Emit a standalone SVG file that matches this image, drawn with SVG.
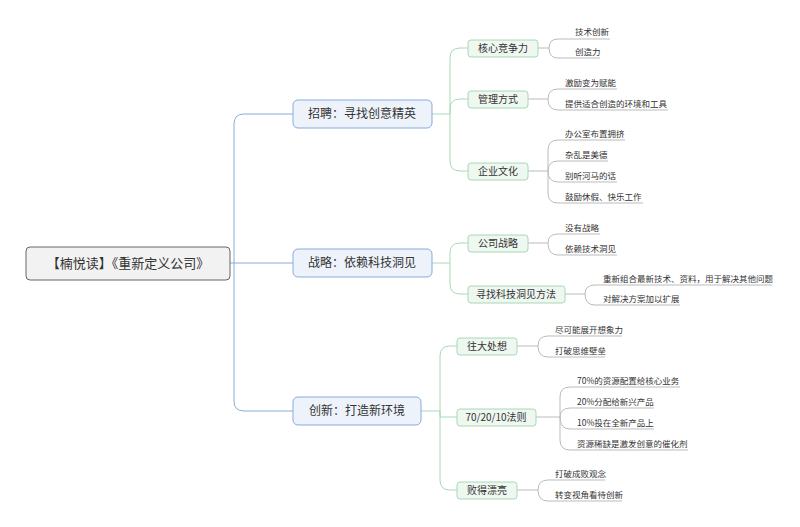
<svg xmlns="http://www.w3.org/2000/svg" width="800" height="527" viewBox="0 0 800 527">
<style>
text{font-family:"Noto Sans CJK SC","Liberation Sans",sans-serif;fill:#333}
.root{fill:#f2f2f2;stroke:#666;stroke-width:1}
.l1{fill:#eef3fb;stroke:#86acd9;stroke-width:1}
.l2{fill:#eef7f0;stroke:#a8d8b5;stroke-width:1}
.c1{fill:none;stroke:#86acd9;stroke-width:1}
.c2{fill:none;stroke:#a8d8b5;stroke-width:1}
.c3{fill:none;stroke:#bbb;stroke-width:1}
.t1{font-size:12px}.t2{font-size:10px}.t3{font-size:8.5px}
</style>
<rect width="800" height="527" fill="#fff"/>
<g id="connectors">
<path class="c1" d="M230 263H234M234 263V124Q234 114 244 114H293M234 263H293M234 263V401Q234 411 244 411H293"/>
<path class="c2" d="M432 114H450M450 114V58Q450 48 460 48H468M450 114V109Q450 99 460 99H468M450 114V161Q450 171 460 171H468"/>
<path class="c2" d="M432 263H450M450 263V253Q450 243 460 243H468M450 263V284Q450 294 460 294H468"/>
<path class="c2" d="M421 411H440M440 411V356Q440 346 450 346H457M440 411V417H457M440 411V480Q440 490 450 490H457"/>
<path class="c3" d="M538 48H549M549 48V48Q549 39 558 39H610M549 48Q549 58 558 58H600"/>
<path class="c3" d="M528 99H548M548 99Q548 89 558 89H617M548 99Q548 110 558 110H668"/>
<path class="c3" d="M528 171H548M548 171V150Q548 140 558 140H625M548 171V171Q548 161 558 161H608M548 171Q548 182 558 182H617M548 171V193Q548 203 558 203H643"/>
<path class="c3" d="M528 243H548M548 243Q548 234 558 234H600M548 243Q548 255 558 255H617"/>
<path class="c3" d="M565 294H585M585 294Q585 285 595 285H772M585 294Q585 305 595 305H680"/>
<path class="c3" d="M517 346H538M538 346Q538 336 548 336H622M538 346Q538 357 548 357H605"/>
<path class="c3" d="M536 417H560M560 417V397Q560 387 570 387H680M560 417V418Q560 408 570 408H654M560 417Q560 429 570 429H654M560 417V440Q560 450 570 450H688"/>
<path class="c3" d="M517 490H538M538 490Q538 480 548 480H605M538 490Q538 501 548 501H622"/>
</g>
<g id="root"><rect class="root" x="26" y="247" width="204" height="33" rx="4"/><text x="128" y="268" font-size="13" text-anchor="middle">【楠悦读】《重新定义公司》</text></g>
<g id="n1"><rect class="l1" x="293" y="100" width="139" height="28" rx="5"/><text class="t1" x="362" y="118" text-anchor="middle">招聘：寻找创意精英</text></g>
<g id="n2"><rect class="l1" x="293" y="249" width="139" height="28" rx="5"/><text class="t1" x="362" y="267" text-anchor="middle">战略：依赖科技洞见</text></g>
<g id="n3"><rect class="l1" x="293" y="397" width="128" height="28" rx="5"/><text class="t1" x="357" y="415" text-anchor="middle">创新：打造新环境</text></g>
<g id="n11"><rect class="l2" x="468" y="40" width="70" height="17" rx="3"/><text class="t2" x="503" y="52" text-anchor="middle">核心竞争力</text></g>
<g id="n12"><rect class="l2" x="468" y="91" width="60" height="17" rx="3"/><text class="t2" x="498" y="103" text-anchor="middle">管理方式</text></g>
<g id="n13"><rect class="l2" x="468" y="163" width="60" height="17" rx="3"/><text class="t2" x="498" y="175" text-anchor="middle">企业文化</text></g>
<g id="n21"><rect class="l2" x="468" y="235" width="60" height="17" rx="3"/><text class="t2" x="498" y="247" text-anchor="middle">公司战略</text></g>
<g id="n22"><rect class="l2" x="468" y="286" width="97" height="17" rx="3"/><text class="t2" x="516" y="298" text-anchor="middle">寻找科技洞见方法</text></g>
<g id="n31"><rect class="l2" x="457" y="338" width="60" height="17" rx="3"/><text class="t2" x="487" y="350" text-anchor="middle">往大处想</text></g>
<g id="n32"><rect class="l2" x="457" y="409" width="79" height="17" rx="3"/><text class="t2" x="496" y="421" text-anchor="middle">70/20/10法则</text></g>
<g id="n33"><rect class="l2" x="457" y="482" width="60" height="17" rx="3"/><text class="t2" x="487" y="494" text-anchor="middle">败得漂亮</text></g>
<g id="leaves" class="t3">
<text class="t3" x="575" y="35">技术创新</text>
<text class="t3" x="575" y="55">创造力</text>
<text class="t3" x="565" y="86">激励变为赋能</text>
<text class="t3" x="565" y="107">提供适合创造的环境和工具</text>
<text class="t3" x="565" y="137">办公室布置拥挤</text>
<text class="t3" x="565" y="158">杂乱是美德</text>
<text class="t3" x="565" y="179">别听河马的话</text>
<text class="t3" x="565" y="200">鼓励休假、快乐工作</text>
<text class="t3" x="565" y="231">没有战略</text>
<text class="t3" x="565" y="252">依赖技术洞见</text>
<text class="t3" x="603" y="282">重新组合最新技术、资料，用于解决其他问题</text>
<text class="t3" x="603" y="302">对解决方案加以扩展</text>
<text class="t3" x="555" y="333">尽可能展开想象力</text>
<text class="t3" x="555" y="354">打破思维壁垒</text>
<text class="t3" x="577" y="384">70%的资源配置给核心业务</text>
<text class="t3" x="577" y="405">20%分配给新兴产品</text>
<text class="t3" x="577" y="426">10%投在全新产品上</text>
<text class="t3" x="577" y="447">资源稀缺是激发创意的催化剂</text>
<text class="t3" x="555" y="477">打破成败观念</text>
<text class="t3" x="555" y="498">转变视角看待创新</text>
</g>
</svg>
